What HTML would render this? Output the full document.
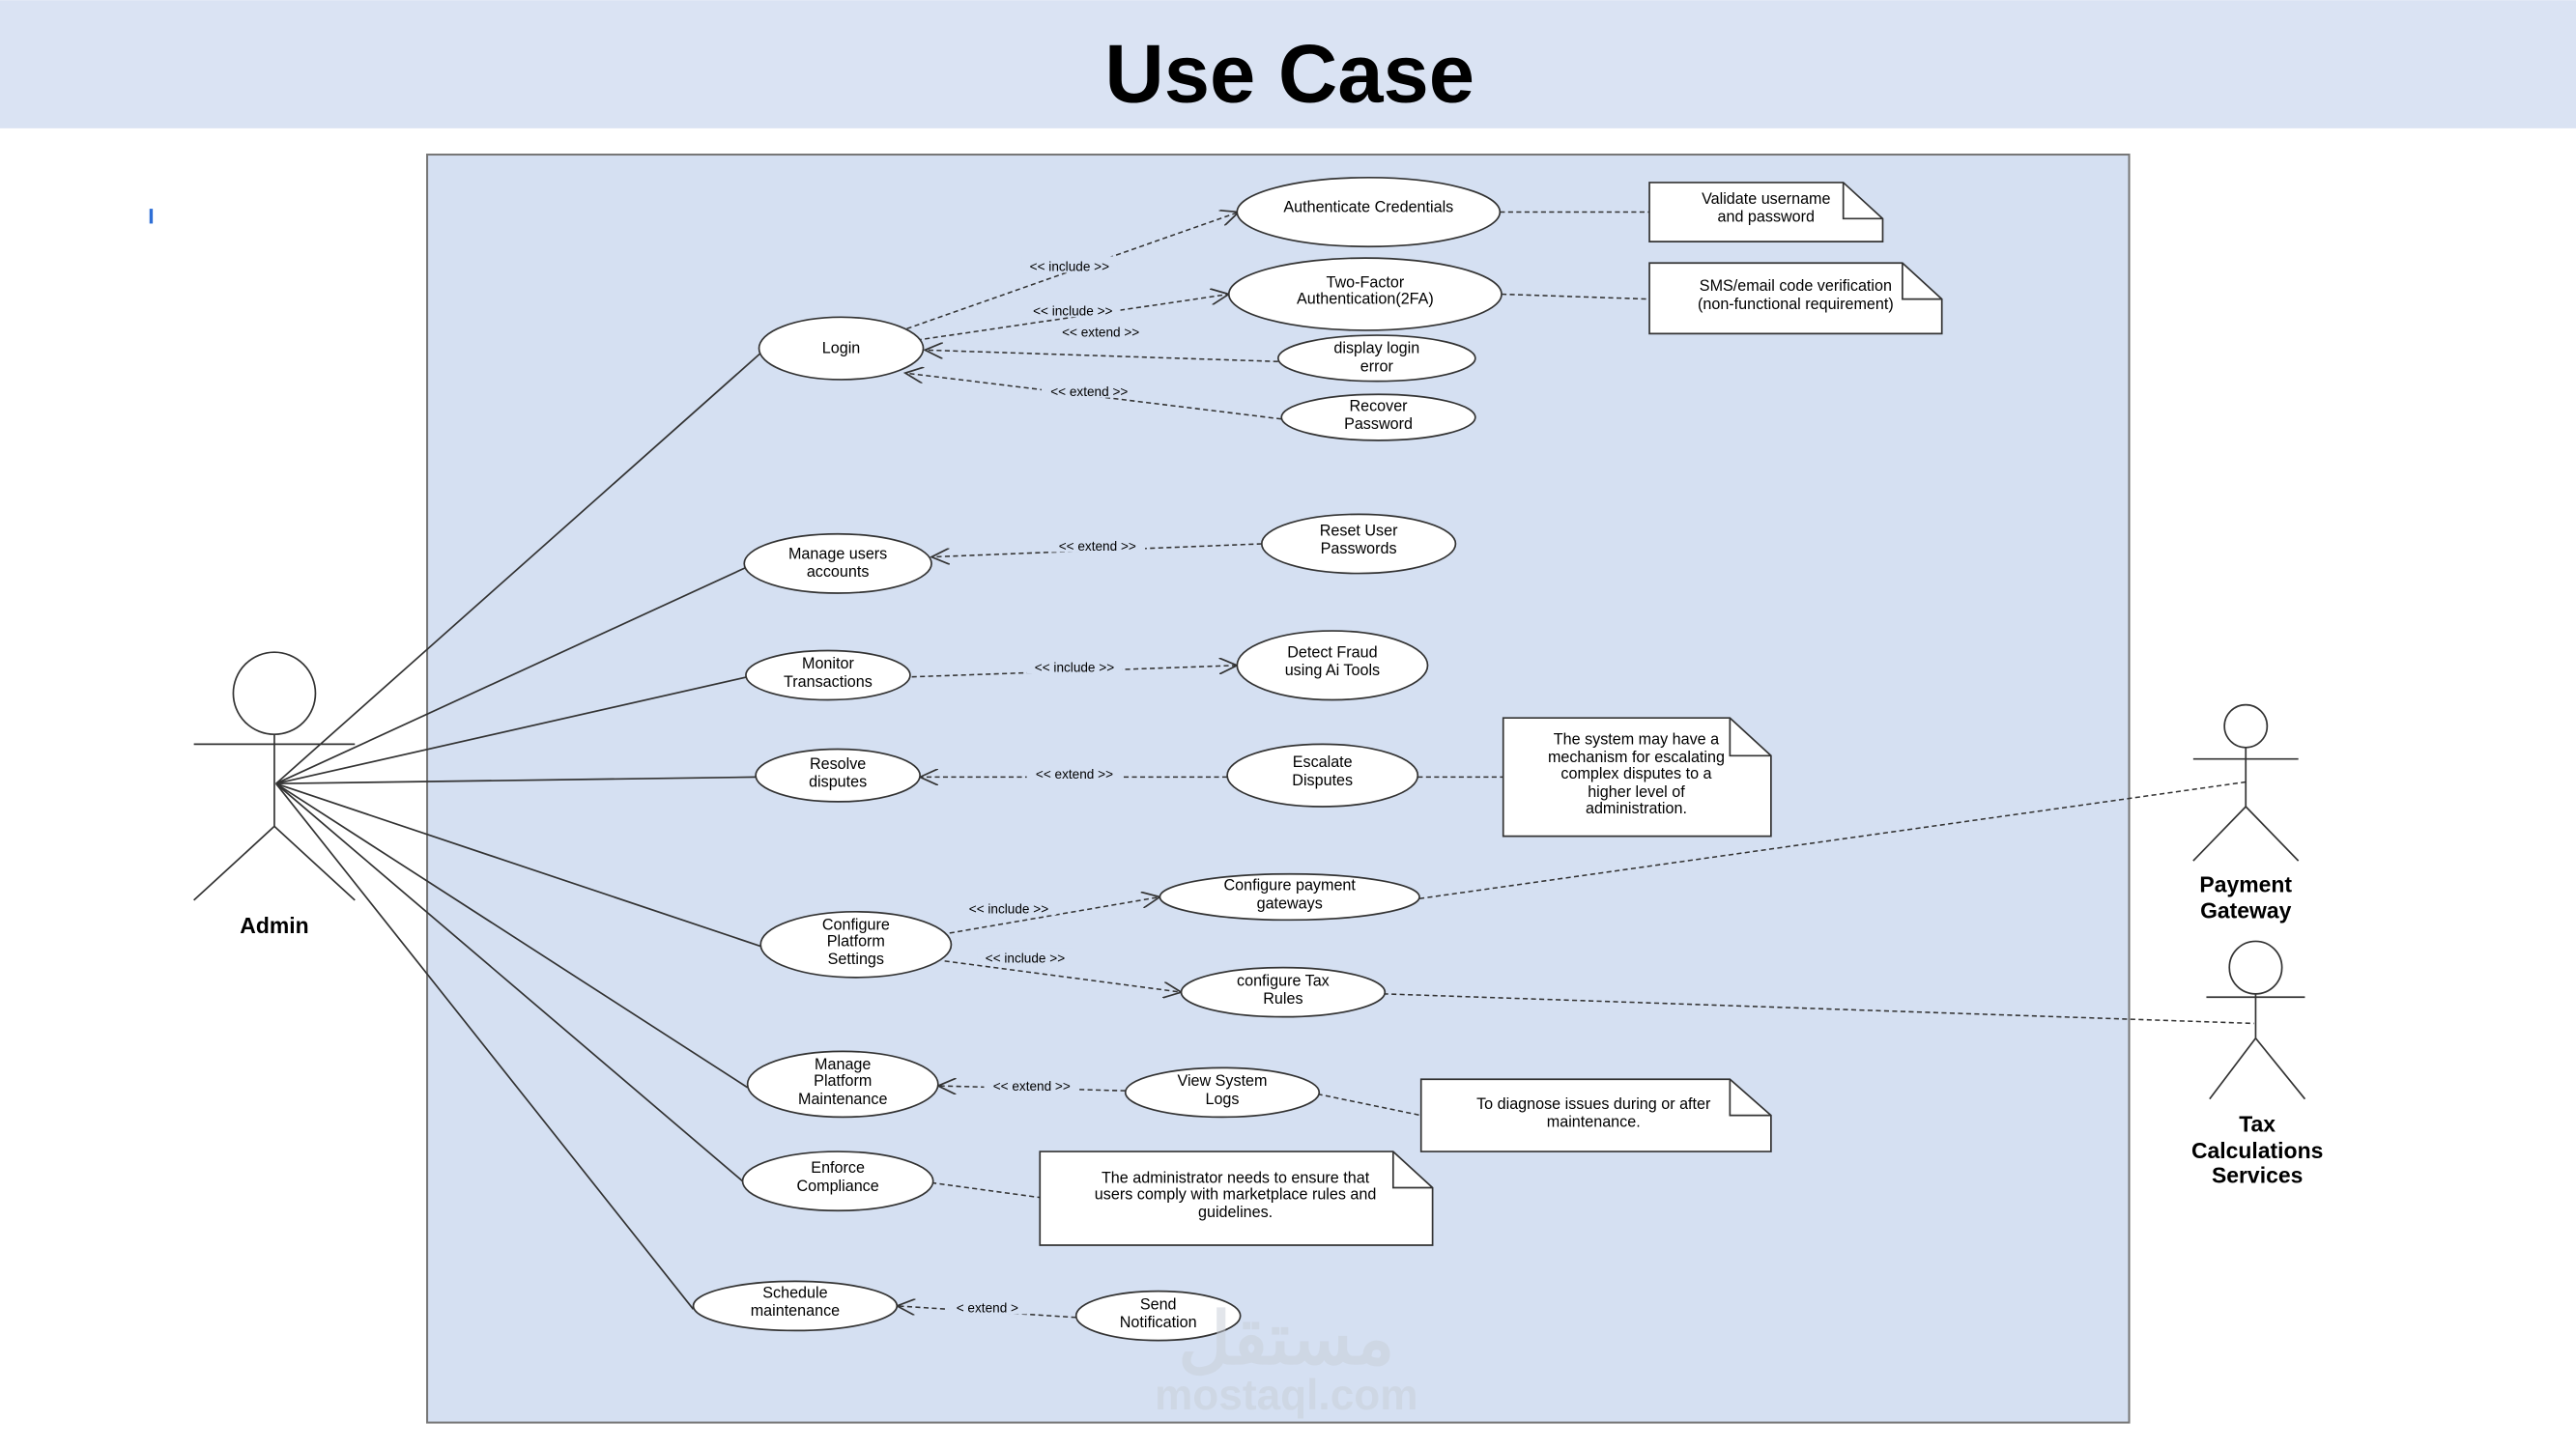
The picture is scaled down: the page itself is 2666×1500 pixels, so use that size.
<!DOCTYPE html>
<html><head><meta charset="utf-8"><style>
html,body{margin:0;padding:0;background:#fff;}
svg{display:block;}
text{font-family:"Liberation Sans",Arial,sans-serif;}
</style></head><body>
<svg width="2666" height="1500" viewBox="0 0 1568 882" xmlns="http://www.w3.org/2000/svg">
<defs>
<marker id="ar" markerWidth="12" markerHeight="10" refX="11" refY="5" orient="auto" markerUnits="userSpaceOnUse">
<path d="M0,0 L11,5 L0,10" fill="none" stroke="#333" stroke-width="1"/></marker>
</defs>
<rect x="0" y="0" width="1568" height="882" fill="#fff"/>
<rect x="0" y="0" width="1568" height="78" fill="#dae3f3"/>
<text x="785" y="62" font-size="50" font-weight="bold" text-anchor="middle" fill="#000">Use Case</text>
<rect x="91" y="127" width="2" height="9" fill="#2f6fd6"/>
<rect x="260" y="94" width="1036" height="772" fill="#d5e0f2" stroke="#777" stroke-width="1.2"/>

<!-- admin lines -->
<g stroke="#333" stroke-width="1" fill="none">
<line x1="168" y1="477" x2="464" y2="214"/>
<line x1="168" y1="477" x2="455" y2="345"/>
<line x1="168" y1="477" x2="455" y2="412"/>
<line x1="168" y1="477" x2="460" y2="473"/>
<line x1="168" y1="477" x2="463" y2="576"/>
<line x1="168" y1="477" x2="455" y2="662"/>
<line x1="168" y1="477" x2="452" y2="719"/>
<line x1="168" y1="477" x2="422" y2="797"/>
</g>

<!-- dashed connectors -->
<g stroke="#333" stroke-width="0.9" fill="none" stroke-dasharray="3,2">
<line x1="552" y1="200" x2="754" y2="129" marker-end="url(#ar)"/>
<line x1="558" y1="207" x2="748" y2="179" marker-end="url(#ar)"/>
<line x1="778" y1="220" x2="563" y2="213" marker-end="url(#ar)"/>
<line x1="780" y1="255" x2="551" y2="227" marker-end="url(#ar)"/>
<line x1="768" y1="331" x2="567" y2="339" marker-end="url(#ar)"/>
<line x1="555" y1="412" x2="753" y2="405" marker-end="url(#ar)"/>
<line x1="747" y1="473" x2="560" y2="473" marker-end="url(#ar)"/>
<line x1="578" y1="568" x2="706" y2="546" marker-end="url(#ar)"/>
<line x1="575" y1="585" x2="719" y2="604" marker-end="url(#ar)"/>
<line x1="685" y1="664" x2="571" y2="661" marker-end="url(#ar)"/>
<line x1="655" y1="802" x2="546" y2="795" marker-end="url(#ar)"/>
<line x1="913" y1="129" x2="1004" y2="129"/>
<line x1="914" y1="179" x2="1004" y2="182"/>
<line x1="863" y1="473" x2="915" y2="473"/>
<line x1="802" y1="666" x2="865" y2="679"/>
<line x1="567" y1="720" x2="633" y2="729"/>
<line x1="864" y1="547" x2="1367" y2="476"/>
<line x1="842" y1="605" x2="1372" y2="623"/>
</g>

<!-- connector labels -->
<g font-size="8" fill="#000" text-anchor="middle">
<rect x="622" y="156" width="58" height="10" fill="#d5e0f2"/><text x="651" y="165">&lt;&lt; include &gt;&gt;</text>
<rect x="624" y="183" width="58" height="10" fill="#d5e0f2"/><text x="653" y="192">&lt;&lt; include &gt;&gt;</text>
<rect x="641" y="196" width="58" height="10" fill="#d5e0f2"/><text x="670" y="205">&lt;&lt; extend &gt;&gt;</text>
<rect x="634" y="232" width="58" height="10" fill="#d5e0f2"/><text x="663" y="241">&lt;&lt; extend &gt;&gt;</text>
<rect x="639" y="326" width="58" height="10" fill="#d5e0f2"/><text x="668" y="335">&lt;&lt; extend &gt;&gt;</text>
<rect x="625" y="400" width="58" height="10" fill="#d5e0f2"/><text x="654" y="409">&lt;&lt; include &gt;&gt;</text>
<rect x="625" y="465" width="58" height="10" fill="#d5e0f2"/><text x="654" y="474">&lt;&lt; extend &gt;&gt;</text>
<rect x="585" y="547" width="58" height="10" fill="#d5e0f2"/><text x="614" y="556">&lt;&lt; include &gt;&gt;</text>
<rect x="595" y="577" width="58" height="10" fill="#d5e0f2"/><text x="624" y="586">&lt;&lt; include &gt;&gt;</text>
<rect x="599" y="655" width="58" height="10" fill="#d5e0f2"/><text x="628" y="664">&lt;&lt; extend &gt;&gt;</text>
<rect x="577" y="790" width="48" height="10" fill="#d5e0f2"/><text x="601" y="799">&lt; extend &gt;</text>
</g>

<!-- use cases -->
<g fill="#fff" stroke="#333" stroke-width="1">
<ellipse cx="512" cy="212" rx="50" ry="19"/>
<ellipse cx="510" cy="343" rx="57" ry="18"/>
<ellipse cx="504" cy="411" rx="50" ry="15"/>
<ellipse cx="510" cy="472" rx="50" ry="16"/>
<ellipse cx="521" cy="575" rx="58" ry="20"/>
<ellipse cx="513" cy="660" rx="58" ry="20"/>
<ellipse cx="510" cy="719" rx="58" ry="18"/>
<ellipse cx="484" cy="795" rx="62" ry="15"/>
<ellipse cx="833" cy="129" rx="80" ry="21"/>
<ellipse cx="831" cy="179" rx="83" ry="22"/>
<ellipse cx="838" cy="218" rx="60" ry="14"/>
<ellipse cx="839" cy="254" rx="59" ry="14"/>
<ellipse cx="827" cy="331" rx="59" ry="18"/>
<ellipse cx="811" cy="405" rx="58" ry="21"/>
<ellipse cx="805" cy="472" rx="58" ry="19"/>
<ellipse cx="785" cy="546" rx="79" ry="14"/>
<ellipse cx="781" cy="604" rx="62" ry="15"/>
<ellipse cx="744" cy="665" rx="59" ry="15"/>
<ellipse cx="705" cy="801" rx="50" ry="15"/>
</g>
<g font-size="9.5" fill="#000" text-anchor="middle">
<text x="512" y="215">Login</text>
<text x="510" y="340">Manage users</text><text x="510" y="351">accounts</text>
<text x="504" y="407">Monitor</text><text x="504" y="418">Transactions</text>
<text x="510" y="468">Resolve</text><text x="510" y="479">disputes</text>
<text x="521" y="566">Configure</text><text x="521" y="576">Platform</text><text x="521" y="587">Settings</text>
<text x="513" y="651">Manage</text><text x="513" y="661">Platform</text><text x="513" y="672">Maintenance</text>
<text x="510" y="714">Enforce</text><text x="510" y="725">Compliance</text>
<text x="484" y="790">Schedule</text><text x="484" y="801">maintenance</text>
<text x="833" y="129">Authenticate Credentials</text>
<text x="831" y="175">Two-Factor</text><text x="831" y="185">Authentication(2FA)</text>
<text x="838" y="215">display login</text><text x="838" y="226">error</text>
<text x="839" y="250">Recover</text><text x="839" y="261">Password</text>
<text x="827" y="326">Reset User</text><text x="827" y="337">Passwords</text>
<text x="811" y="400">Detect Fraud</text><text x="811" y="411">using Ai Tools</text>
<text x="805" y="467">Escalate</text><text x="805" y="478">Disputes</text>
<text x="785" y="542">Configure payment</text><text x="785" y="553">gateways</text>
<text x="781" y="600">configure Tax</text><text x="781" y="611">Rules</text>
<text x="744" y="661">View System</text><text x="744" y="672">Logs</text>
<text x="705" y="797">Send</text><text x="705" y="808">Notification</text>
</g>

<!-- notes -->
<g fill="#fff" stroke="#333" stroke-width="1">
<path d="M1004,111 H1122 L1146,133 V147 H1004 Z"/><path d="M1122,111 V133 H1146" fill="none"/>
<path d="M1004,160 H1158 L1182,182 V203 H1004 Z"/><path d="M1158,160 V182 H1182" fill="none"/>
<path d="M915,437 H1053 L1078,460 V509 H915 Z"/><path d="M1053,437 V460 H1078" fill="none"/>
<path d="M865,657 H1053 L1078,679 V701 H865 Z"/><path d="M1053,657 V679 H1078" fill="none"/>
<path d="M633,701 H848 L872,723 V758 H633 Z"/><path d="M848,701 V723 H872" fill="none"/>
</g>
<g font-size="9.5" fill="#000" text-anchor="middle">
<text x="1075" y="124">Validate username</text><text x="1075" y="135">and password</text>
<text x="1093" y="177">SMS/email code verification</text><text x="1093" y="188">(non-functional requirement)</text>
<text x="996" y="453">The system may have a</text><text x="996" y="464">mechanism for escalating</text><text x="996" y="474">complex disputes to a</text><text x="996" y="485">higher level of</text><text x="996" y="495">administration.</text>
<text x="970" y="675">To diagnose issues during or after</text><text x="970" y="686">maintenance.</text>
<text x="752" y="720">The administrator needs to ensure that</text><text x="752" y="730">users comply with marketplace rules and</text><text x="752" y="741">guidelines.</text>
</g>

<!-- actors -->
<g fill="none" stroke="#333" stroke-width="1">
<circle cx="167" cy="422" r="25" fill="#fff"/>
<line x1="167" y1="447" x2="167" y2="503"/>
<line x1="118" y1="453" x2="216" y2="453"/>
<line x1="167" y1="503" x2="118" y2="548"/>
<line x1="167" y1="503" x2="216" y2="548"/>
<circle cx="1367" cy="442" r="13" fill="#fff"/>
<line x1="1367" y1="455" x2="1367" y2="491"/>
<line x1="1335" y1="462" x2="1399" y2="462"/>
<line x1="1367" y1="491" x2="1335" y2="524"/>
<line x1="1367" y1="491" x2="1399" y2="524"/>
<circle cx="1373" cy="589" r="16" fill="#fff"/>
<line x1="1373" y1="605" x2="1373" y2="632"/>
<line x1="1343" y1="607" x2="1403" y2="607"/>
<line x1="1373" y1="632" x2="1345" y2="669"/>
<line x1="1373" y1="632" x2="1403" y2="669"/>
</g>
<g font-size="13.5" font-weight="bold" fill="#000" text-anchor="middle">
<text x="167" y="568">Admin</text>
<text x="1367" y="543">Payment</text><text x="1367" y="559">Gateway</text>
<text x="1374" y="689">Tax</text><text x="1374" y="705">Calculations</text><text x="1374" y="720">Services</text>
</g>
<g fill="#c9cfd8" opacity="0.5" text-anchor="middle" font-weight="bold">
<text x="783" y="830" font-size="44">مستقل</text>
<text x="783" y="858" font-size="26">mostaql.com</text>
</g>
</svg>
</body></html>
